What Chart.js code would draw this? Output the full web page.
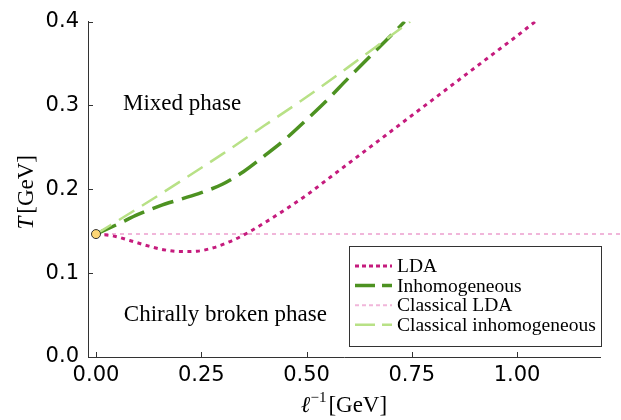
<!DOCTYPE html>
<html>
<head>
<meta charset="utf-8">
<script src="https://cdn.jsdelivr.net/npm/chart.js@4.4.1/dist/chart.umd.min.js"></script>
<style>
  html,body{margin:0;padding:0;background:#fff;}
  #wrap{width:621px;height:420px;}
</style>
</head>
<body>
<div id="wrap"><canvas id="chart"></canvas></div>
<script>
// values: x = 1/l [GeV], y = T [GeV]
const ldaX = [0, 0.04, 0.08, 0.12, 0.16, 0.2, 0.24, 0.28, 0.32, 0.36, 0.4, 0.45, 0.5, 0.55, 0.6, 0.65, 0.7, 0.75, 0.8, 0.85, 0.9, 0.95, 1.0, 1.043];
const ldaY = [0.1466, 0.1445, 0.139, 0.133, 0.128, 0.1257, 0.1262, 0.1305, 0.138, 0.148, 0.160, 0.176, 0.193, 0.212, 0.231, 0.250, 0.269, 0.288, 0.307, 0.326, 0.345, 0.364, 0.383, 0.4];

const inhX = [0, 0.05, 0.1, 0.15, 0.2, 0.25, 0.3, 0.35, 0.4, 0.45, 0.5, 0.55, 0.6, 0.65, 0.7, 0.733];
const inhY = [0.1466, 0.158, 0.170, 0.180, 0.188, 0.196, 0.206, 0.221, 0.240, 0.260, 0.283, 0.307, 0.333, 0.358, 0.383, 0.4];

const clLdaX = [0, 1.26];
const clLdaY = [0.1466, 0.1466];

const clInhX = [0, 0.1, 0.2, 0.3, 0.4, 0.5, 0.6, 0.7, 0.746];
const clInhY = [0.1466, 0.1775, 0.2093, 0.242, 0.276, 0.310, 0.346, 0.383, 0.4];

const critX = [0];
const critY = [0.1466];

const xTicks = [0, 0.25, 0.5, 0.75, 1.0];
const xTickLabels = ["0.00", "0.25", "0.50", "0.75", "1.00"];
const yTicks = [0, 0.1, 0.2, 0.3, 0.4];
const yTickLabels = ["0.0", "0.1", "0.2", "0.3", "0.4"];

const labels = ["LDA", "Inhomogeneous", "Classical LDA", "Classical inhomogeneous"];
const notes = ["Mixed phase", "Chirally broken phase"];
const noteX = [0.064, 0.066];
const noteY = [0.302, 0.050];

const pts = (xs, ys) => xs.map((v, i) => ({x: v, y: ys[i]}));

const serif = '"Liberation Serif", "DejaVu Serif", serif';

/* ---- extra drawing: inward ticks, texts, legend, axis titles ---- */
const overlay = {
  id: 'overlay',
  afterDraw(chart){
    const {ctx, chartArea: a, scales: {x, y}} = chart;
    ctx.save();

    // inward tick marks
    ctx.strokeStyle = "#333";
    ctx.lineWidth = 1;
    xTicks.forEach(v => {
      const px = Math.round(x.getPixelForValue(v)) + 0.5;
      ctx.beginPath(); ctx.moveTo(px, a.bottom); ctx.lineTo(px, a.bottom - 5); ctx.stroke();
    });
    yTicks.forEach(v => {
      const py = Math.round(y.getPixelForValue(v)) + 0.5;
      ctx.beginPath(); ctx.moveTo(a.left, py); ctx.lineTo(a.left + 5, py); ctx.stroke();
    });

    // region labels
    ctx.fillStyle = "#000";
    ctx.font = "23px " + serif;
    ctx.textAlign = "left";
    ctx.textBaseline = "middle";
    notes.forEach((t, i) => ctx.fillText(t, x.getPixelForValue(noteX[i]), y.getPixelForValue(noteY[i])));

    // legend box
    const bx = 349.5, by = 246.5, bw = 252, bh = 100;
    ctx.fillStyle = "#fff";
    ctx.fillRect(bx, by, bw, bh);
    ctx.strokeStyle = "#333";
    ctx.setLineDash([]);
    ctx.strokeRect(bx, by, bw, bh);
    ctx.font = "19.5px " + serif;
    chart.data.datasets.slice(0, 4).forEach((ds, i) => {
      const ly = by + 19.5 + i * 19.6;
      ctx.strokeStyle = ds.borderColor;
      ctx.lineWidth = ds.borderWidth;
      ctx.setLineDash(ds.legendDash);
      ctx.beginPath(); ctx.moveTo(355, ly); ctx.lineTo(392, ly); ctx.stroke();
      ctx.fillStyle = "#000";
      ctx.fillText(ds.label, 397, ly + 1);
    });
    ctx.setLineDash([]);

    // x axis title: l^-1 [GeV]
    const cx = (a.left + a.right) / 2;
    const base = 412;
    ctx.textBaseline = "alphabetic";
    ctx.font = "italic 23px " + serif;
    const w1 = ctx.measureText("ℓ").width;
    ctx.font = "15px " + serif;
    const w2 = ctx.measureText("−1").width;
    ctx.font = "23px " + serif;
    const w3 = ctx.measureText("[GeV]").width;
    let sx = cx - (w1 + w2 + 2 + w3) / 2;
    ctx.font = "italic 23px " + serif;
    ctx.fillText("ℓ", sx, base);
    ctx.font = "15px " + serif;
    ctx.fillText("−1", sx + w1, base - 10);
    ctx.font = "23px " + serif;
    ctx.fillText("[GeV]", sx + w1 + w2 + 2, base);

    // y axis title: T [GeV]
    ctx.translate(33, (a.top + a.bottom) / 2 + 3);
    ctx.rotate(-Math.PI / 2);
    ctx.font = "italic 23px " + serif;
    const t1 = ctx.measureText("T").width;
    ctx.font = "23px " + serif;
    const t2 = ctx.measureText("[GeV]").width;
    let sy = -(t1 + 3 + t2) / 2;
    ctx.font = "italic 23px " + serif;
    ctx.fillText("T", sy, 0);
    ctx.font = "23px " + serif;
    ctx.fillText("[GeV]", sy + t1 + 3, 0);

    ctx.restore();
  }
};

const line = (label, xs, ys, color, width, dash, legendDash, order) => ({
  label: label,
  data: pts(xs, ys),
  borderColor: color,
  borderWidth: width,
  borderDash: dash,
  legendDash: legendDash,
  pointRadius: 0,
  fill: false,
  tension: 0.4,
  cubicInterpolationMode: "monotone",
  order: order
});

const datasets = [
  line(labels[0], ldaX, ldaY, "#c51b7d", 3, [4, 4.5], [4, 3], 3),
  line(labels[1], inhX, inhY, "#4d9221", 3.5, [22, 9], [20, 7], 2),
  Object.assign(line(labels[2], clLdaX, clLdaY, "#f1b6da", 2, [4, 4], [4, 3], 4), {clip: false, tension: 0}),
  line(labels[3], clInhX, clInhY, "#b8e186", 2.5, [18, 9], [20, 7], 1),
  {
    label: "critical point",
    data: pts(critX, critY),
    showLine: false,
    pointRadius: 4.5,
    pointBackgroundColor: "#fdd675",
    pointBorderColor: "#333",
    pointBorderWidth: 1,
    order: 0
  }
];

new Chart(document.getElementById("chart"), {
  type: "line",
  data: {datasets: datasets},
  options: {
    responsive: true,
    maintainAspectRatio: false,
    animation: false,
    layout: {padding: {top: 16, right: 21, left: 0, bottom: 0}},
    plugins: {legend: {display: false}, tooltip: {enabled: false}},
    scales: {
      x: {
        type: "linear",
        min: -0.019,
        max: 1.197,
        afterBuildTicks: s => { s.ticks = xTicks.map(v => ({value: v})); },
        afterFit: s => { s.height = 63; },
        grid: {display: false, drawTicks: false},
        border: {display: true, color: "#333", width: 1},
        ticks: {
          color: "#000",
          padding: 6,
          maxRotation: 0,
          font: {family: "DejaVu Sans", size: 21},
          callback: (v) => xTickLabels[xTicks.indexOf(v)]
        }
      },
      y: {
        type: "linear",
        min: 0,
        max: 0.4,
        afterBuildTicks: s => { s.ticks = yTicks.map(v => ({value: v})); },
        afterFit: s => { s.width = 88; },
        grid: {display: false, drawTicks: false},
        border: {display: true, color: "#333", width: 1},
        ticks: {
          color: "#000",
          padding: 9,
          font: {family: "DejaVu Sans", size: 21},
          callback: (v) => yTickLabels[yTicks.indexOf(v)]
        }
      }
    }
  },
  plugins: [overlay]
});
</script>
</body>
</html>
